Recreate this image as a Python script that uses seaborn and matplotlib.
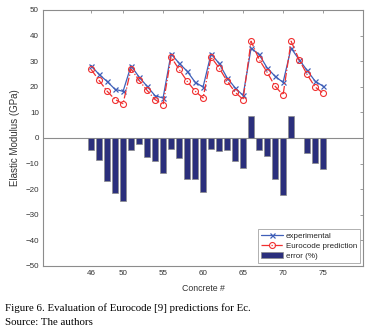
import numpy as np
import pandas as pd
import matplotlib
matplotlib.use("Agg")
import matplotlib.pyplot as plt
import seaborn as sns

# concrete numbers 46..75
concrete = list(range(46, 76))
experimental = [28.3, 24.8, 22.1, 19.0, 18.2, 28.2, 23.8, 20.2, 16.5, 15.6,
                32.9, 29.2, 26.1, 21.8, 19.9, 32.9, 29.1, 23.5, 19.6, 16.6,
                35.1, 32.6, 27.4, 24.1, 21.7, 35.1, 30.6, 26.4, 22.2, 20.2]
eurocode = [26.8, 22.5, 18.3, 15.0, 13.4, 27.0, 22.5, 18.6, 15.0, 13.0,
            31.6, 26.8, 22.2, 18.3, 15.6, 31.6, 27.4, 22.2, 17.9, 15.0,
            37.8, 30.7, 25.7, 20.2, 16.8, 37.8, 30.6, 24.8, 19.9, 17.5]
error_pct = [-4.6, -8.8, -16.9, -21.7, -24.8, -4.6, -2.2, -7.5, -9.0, -13.6,
             -4.2, -7.7, -16.0, -16.0, -21.1, -4.2, -5.2, -4.6, -9.2, -11.6,
             8.4, -4.8, -7.2, -16.0, -22.4, 8.4, 0.0, -5.8, -9.8, -12.2]
xticks = [46, 50, 55, 60, 65, 70, 75]

df = pd.DataFrame({"Concrete": concrete, "exp": experimental,
                   "pred": eurocode, "err": error_pct})

sns.set_style("white")
plt.rcParams["font.family"] = ["Liberation Sans", "DejaVu Sans"]

fig = plt.figure(figsize=(3.81, 3.32), dpi=100)
ax = fig.add_axes([0.113, 0.199, 0.840, 0.771])

grey = "#8c8c8c"
blue = "#3f5fb8"
red = "#f03030"
sns.barplot(data=df, x="Concrete", y="err", native_scale=True, width=0.7,
            color="#2b2f7c", saturation=1, edgecolor=grey, linewidth=0.5,
            errorbar=None, label="error (%)", ax=ax, zorder=2)
ax.axhline(0, color=grey, lw=0.8, zorder=1)
sns.lineplot(data=df, x="Concrete", y="exp", color=blue, lw=0.9,
             marker="x", markersize=3.6, mew=0.9, mec=blue,
             label="experimental", ax=ax, zorder=3)
sns.lineplot(data=df, x="Concrete", y="pred", color=red, lw=0.9,
             linestyle="-.", marker="o", markersize=4.3, mfc="none", mec=red,
             mew=0.8, label="Eurocode prediction", ax=ax, zorder=4)

ax.set_xlim(40, 80)
ax.set_ylim(-50, 50)
ax.set_xticks(xticks)
ax.set_yticks(range(-50, 51, 10))
ax.tick_params(direction="in", length=2.5, width=0.6, color=grey,
               labelsize=5.8, labelcolor="#333333", pad=3,
               top=True, right=True)
for s in ax.spines.values():
    s.set_color(grey)
    s.set_linewidth(0.8)
ax.set_xlabel("Concrete #", fontsize=6.3, color="#333333", labelpad=5)
ax.set_ylabel("Elastic Modulus (GPa)", fontsize=7, color="#333333", labelpad=4)

h, l = ax.get_legend_handles_labels()
order = [l.index("experimental"), l.index("Eurocode prediction"), l.index("error (%)")]
leg = ax.legend([h[i] for i in order], [l[i] for i in order], loc="lower right",
                fontsize=5.8, frameon=True, fancybox=False, handlelength=2.7,
                borderaxespad=0.4, labelspacing=0.3, borderpad=0.35,
                handletextpad=0.4)
leg.get_frame().set_edgecolor(grey)
leg.get_frame().set_linewidth(0.6)

fig.text(0.012, 0.062, "Figure 6. Evaluation of Eurocode [9] predictions for Ec.",
         family="Liberation Serif", fontsize=7.8, color="black")
fig.text(0.012, 0.022, "Source: The authors",
         family="Liberation Serif", fontsize=7.8, color="black")

fig.savefig("out.png", dpi=100)
